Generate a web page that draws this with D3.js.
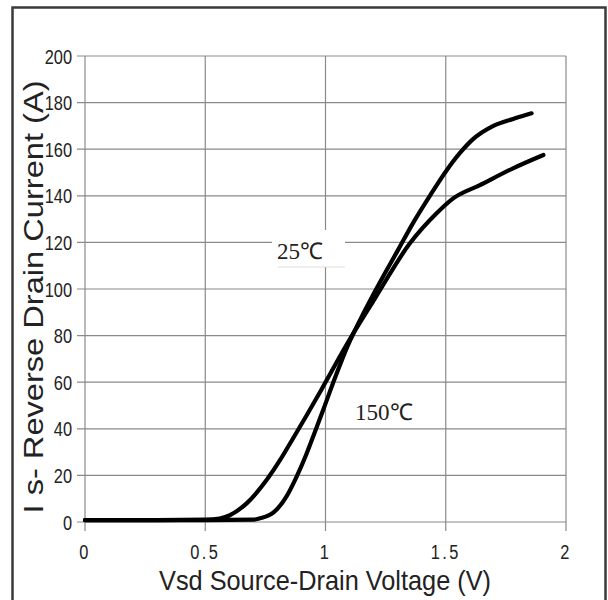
<!DOCTYPE html>
<html><head><meta charset="utf-8">
<script src="https://cdn.jsdelivr.net/npm/d3@7"></script>
<style>body{margin:0;background:#fff}svg{display:block}</style>
</head><body>
<svg id="c" width="608" height="600"></svg>
<script>
const xTicks = [0, 0.5, 1, 1.5, 2];
const xTickLabels = ["0", "0.5", "1", "1.5", "2"];
const yTicks = [0, 20, 40, 60, 80, 100, 120, 140, 160, 180, 200];
const v25 = [0, 0.3, 0.5, 0.56, 0.6, 0.672, 0.755, 0.81, 0.86, 0.92, 0.984, 1.09, 1.2, 1.351, 1.462, 1.531, 1.642, 1.78, 1.906];
const i25 = [0.8, 0.8, 1.0, 1.5, 2.8, 8, 18, 26.4, 35, 45.5, 57, 76.5, 95, 119.6, 132.5, 138.9, 144.6, 151.8, 157.5];
const v150 = [0, 0.5, 0.7, 0.728, 0.783, 0.838, 0.88, 0.92, 0.95, 0.99, 1.04, 1.094, 1.16, 1.227, 1.303, 1.365, 1.434, 1.504, 1.56, 1.61, 1.698, 1.78, 1.857];
const i150 = [0.8, 0.8, 1.0, 1.6, 4, 11, 19.5, 29, 37, 48, 62, 76, 90, 103, 117, 128.5, 140, 151, 158.5, 164, 170, 173, 175.4];
const label25 = "25℃";
const label150 = "150℃";
const xTitle = "Vsd Source-Drain Voltage (V)";
const yTitle = "I s- Reverse Drain Current (A)";

const svg = d3.select("#c");
const x = d3.scaleLinear().domain([0, 2]).range([85, 566]);
const y = d3.scaleLinear().domain([0, 200]).range([522, 56]);

// outer frame
svg.append("rect").attr("x", 12.5).attr("y", 7.5).attr("width", 593).attr("height", 620)
  .attr("fill", "none").attr("stroke", "#3a3a3a").attr("stroke-width", 2.5);

const grid = svg.append("g").attr("stroke", "#8a8a8a").attr("stroke-width", 1.2);
yTicks.forEach(t => grid.append("line").attr("x1", x(0) - 8).attr("x2", x(2)).attr("y1", y(t)).attr("y2", y(t)));
xTicks.forEach(t => grid.append("line").attr("y1", y(200)).attr("y2", y(0) + 9).attr("x1", x(t)).attr("x2", x(t)));

const tickFont = "'Liberation Sans',Arial,sans-serif";
svg.append("g").selectAll("text").data(yTicks).join("text")
  .attr("transform", d => `translate(72,${y(d) + 7.5}) scale(0.8,1)`).attr("text-anchor", "end")
  .attr("font-family", tickFont).attr("font-size", 20.5).attr("fill", "#222").text(d => d);
svg.append("g").selectAll("text").data(xTicks).join("text")
  .attr("transform", d => `translate(${x(d)},559) scale(0.8,1)`).attr("text-anchor", "middle").attr("letter-spacing", 3)
  .attr("font-family", tickFont).attr("font-size", 20.5).attr("fill", "#222").text((d, i) => xTickLabels[i]);

// titles
svg.append("text").attr("x", 325).attr("y", 590).attr("text-anchor", "middle")
  .attr("font-family", "'Liberation Sans',Arial,sans-serif").attr("font-size", 28).attr("fill", "#222")
  .attr("textLength", 332).attr("lengthAdjust", "spacingAndGlyphs").text(xTitle);
svg.append("text").attr("transform", "translate(43,297) rotate(-90)").attr("text-anchor", "middle")
  .attr("font-family", "'Liberation Sans',Arial,sans-serif").attr("font-size", 27).attr("fill", "#222")
  .attr("textLength", 433).attr("lengthAdjust", "spacingAndGlyphs").text(yTitle);

// curves
const line = d3.line().x(d => x(d[0])).y(d => y(d[1])).curve(d3.curveMonotoneX);
const s25 = v25.map((v, i) => [v, i25[i]]);
const s150 = v150.map((v, i) => [v, i150[i]]);
[s25, s150].forEach(s => svg.append("path").attr("d", line(s)).attr("fill", "none")
  .attr("stroke", "#000").attr("stroke-width", 4.2).attr("stroke-linecap", "round"));

// labels
svg.append("rect").attr("x", 272).attr("y", 230).attr("width", 73).attr("height", 37).attr("fill", "#fff");
svg.append("line").attr("x1", 278).attr("x2", 345).attr("y1", 267).attr("y2", 267).attr("stroke", "#ddd").attr("stroke-width", 1);
svg.append("text").attr("x", 277).attr("y", 259).attr("font-family", "'Liberation Serif',serif")
  .attr("font-size", 23).attr("fill", "#222").text(label25);
svg.append("text").attr("x", 355).attr("y", 420).attr("font-family", "'Liberation Serif',serif")
  .attr("font-size", 23).attr("fill", "#222").text(label150);
</script>
</body></html>
